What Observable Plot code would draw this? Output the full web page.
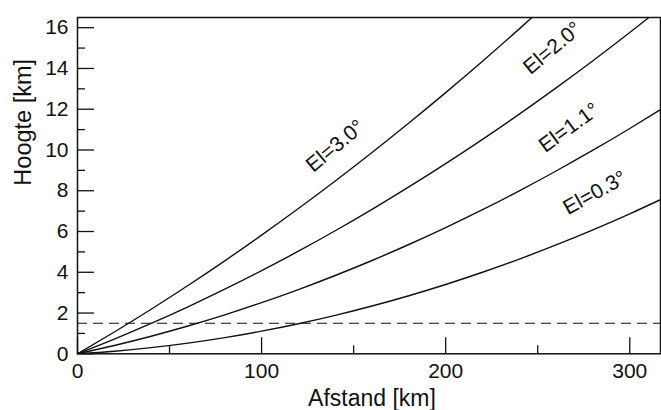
<!DOCTYPE html>
<html>
<head>
<meta charset="utf-8">
<script src="https://cdn.jsdelivr.net/npm/d3@7"></script>
<script src="https://cdn.jsdelivr.net/npm/@observablehq/plot@0.6"></script>
<style>
  html, body { margin: 0; padding: 0; background: #fff; }
  #chart { width: 661px; height: 410px; }
</style>
</head>
<body>
<div id="chart"></div>
<script>
// Distance along beam [km]
const afstand = [0, 20, 40, 60, 80, 100, 120, 140, 160, 180, 200, 220, 240, 260, 280, 300, 320];
// Beam height [km] per elevation
const el03 = [0, 0.128, 0.304, 0.526, 0.796, 1.112, 1.476, 1.887, 2.345, 2.850, 3.402, 4.001, 4.647, 5.340, 6.081, 6.868, 7.703];
const el11 = [0, 0.407, 0.862, 1.364, 1.912, 2.508, 3.151, 3.841, 4.578, 5.362, 6.193, 7.071, 7.996, 8.969, 9.988, 11.055, 12.168];
const el20 = [0, 0.722, 1.490, 2.306, 3.168, 4.078, 5.034, 6.038, 7.089, 8.187, 9.331, 10.523, 11.762, 13.048, 14.381, 15.761, 17.188];
const el30 = [0, 1.070, 2.187, 3.352, 4.563, 5.821, 7.126, 8.478, 9.877, 11.322, 12.815, 14.355, 15.942, 17.576, 19.25, 20.97, 22.73];
const seriesNames = ["El=0.3°", "El=1.1°", "El=2.0°", "El=3.0°"];
const seriesValues = [el03, el11, el20, el30];
// Label placement for each series (distance, height, rotation)
const labelX = [281, 267, 258, 140];
const labelY = [7.9, 11.1, 15.0, 10.2];
const labelRot = [-29, -36, -40, -40];
// Reference level (dashed line)
const refHoogte = [1.5];
// Axis ticks
const xMajor = [0, 100, 200, 300];
const xMinor = [50, 150, 250];
const yMajor = [0, 2, 4, 6, 8, 10, 12, 14, 16];
const yMinor = [1, 3, 5, 7, 9, 11, 13, 15];

const rows = [];
seriesNames.forEach((name, i) => {
  afstand.forEach((x, j) => rows.push({serie: name, x, y: seriesValues[i][j]}));
});
const labels = seriesNames.map((name, i) => ({text: name, x: labelX[i], y: labelY[i], r: labelRot[i]}));

const W = 661, H = 410, mL = 77, mR = 1, mT = 17, mB = 56.7;
const frameW = W - mL - mR, frameH = H - mT - mB;
const font = "'Liberation Sans', Arial, Helvetica, sans-serif";

const chart = Plot.plot({
  width: W,
  height: H,
  marginLeft: mL,
  marginRight: mR,
  marginTop: mT,
  marginBottom: mB,
  style: {fontFamily: font, fontSize: "21px", color: "#111", background: "#fff"},
  x: {domain: [0, 316.7]},
  y: {domain: [0, 16.5]},
  marks: [
    Plot.line(rows, {x: "x", y: "y", z: "serie", stroke: "#111", strokeWidth: 1.4, curve: "natural", clip: true}),
    Plot.ruleY(refHoogte, {stroke: "#111", strokeWidth: 1.2, strokeDasharray: "10,6"}),
    Plot.tickX(xMajor, {x: d => d, stroke: "#111", strokeWidth: 1.3, insetTop: frameH - 16}),
    Plot.tickX(xMinor, {x: d => d, stroke: "#111", strokeWidth: 1.3, insetTop: frameH - 8}),
    Plot.tickY(yMajor, {y: d => d, stroke: "#111", strokeWidth: 1.3, insetRight: frameW - 17}),
    Plot.tickY(yMinor, {y: d => d, stroke: "#111", strokeWidth: 1.3, insetRight: frameW - 8}),
    Plot.axisX(xMajor, {tickSize: 0, tickPadding: 9, label: null, fontSize: 21, fill: "#111"}),
    Plot.axisY(yMajor, {tickSize: 0, tickPadding: 9, label: null, fontSize: 21, fill: "#111"}),
    Plot.frame({stroke: "#111", strokeWidth: 1.5}),
    Plot.text(labels, {x: "x", y: "y", text: "text", rotate: "r", fontSize: 21, fill: "#111", textAnchor: "middle", lineAnchor: "middle"}),
    Plot.text(["Afstand [km]"], {frameAnchor: "bottom", text: d => d, dx: 3, dy: 52, lineAnchor: "bottom", fontSize: 23, fill: "#111"}),
    Plot.text(["Hoogte [km]"], {frameAnchor: "left", text: d => d, rotate: -90, dx: -54, lineAnchor: "middle", fontSize: 23.5, fill: "#111"})
  ]
});
document.getElementById("chart").appendChild(chart);
</script>
</body>
</html>
